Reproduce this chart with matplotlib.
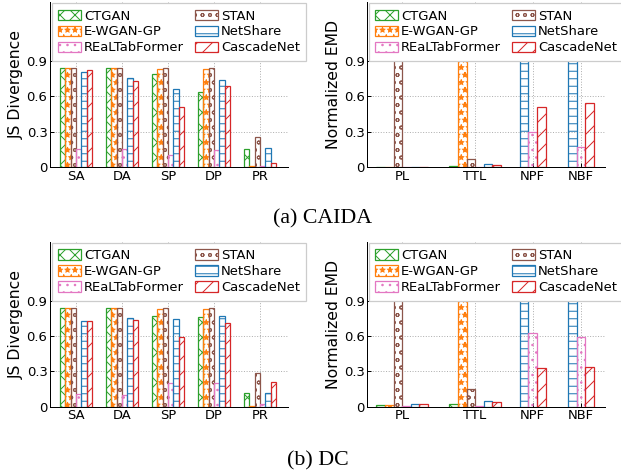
import matplotlib
matplotlib.use("Agg")
import matplotlib.pyplot as plt
import numpy as np

# ---------------- data ----------------
methods = ["CTGAN", "E-WGAN-GP", "STAN", "REaLTabFormer", "NetShare", "CascadeNet"]
legend_order = ["CTGAN", "E-WGAN-GP", "REaLTabFormer", "STAN", "NetShare", "CascadeNet"]

js_features = ["SA", "DA", "SP", "DP", "PR"]
emd_features = ["PL", "TTL", "NPF", "NBF"]

# JS divergence, CAIDA
caida_js_ctgan = [0.84, 0.84, 0.787, 0.634, 0.157]
caida_js_ewgan = [0.84, 0.84, 0.83, 0.83, 0.005]
caida_js_stan = [0.84, 0.84, 0.838, 0.838, 0.259]
caida_js_realtab = [0.157, 0.152, 0.10, 0.148, 0.005]
caida_js_netshare = [0.804, 0.753, 0.66, 0.738, 0.162]
caida_js_cascade = [0.821, 0.733, 0.511, 0.69, 0.031]

# Normalized EMD, CAIDA (None = not applicable)
caida_emd_ctgan = [0.002, 0.01, None, None]
caida_emd_ewgan = [0.002, 1.0, None, None]
caida_emd_stan = [1.0, 0.071, None, None]
caida_emd_realtab = [0.001, 0.001, 0.298, 0.168]
caida_emd_netshare = [0.003, 0.025, 1.0, 1.0]
caida_emd_cascade = [0.003, 0.015, 0.506, 0.54]

# JS divergence, DC
dc_js_ctgan = [0.835, 0.835, 0.77, 0.759, 0.113]
dc_js_ewgan = [0.835, 0.835, 0.826, 0.826, 0.002]
dc_js_stan = [0.835, 0.835, 0.835, 0.835, 0.283]
dc_js_realtab = [0.105, 0.099, 0.198, 0.198, 0.025]
dc_js_netshare = [0.727, 0.75, 0.744, 0.77, 0.113]
dc_js_cascade = [0.725, 0.736, 0.594, 0.708, 0.212]

# Normalized EMD, DC
dc_emd_ctgan = [0.014, 0.02, None, None]
dc_emd_ewgan = [0.015, 1.0, None, None]
dc_emd_stan = [1.0, 0.147, None, None]
dc_emd_realtab = [0.002, 0.002, 0.623, 0.594]
dc_emd_netshare = [0.02, 0.045, 1.0, 1.0]
dc_emd_cascade = [0.02, 0.037, 0.325, 0.337]

yticks = [0, 0.3, 0.6, 0.9]
ytick_labels = ["0", "0.3", "0.6", "0.9"]
captions = ["(a) CAIDA", "(b) DC"]

# ---------------- style ----------------
colors = {"CTGAN": "#2ca02c", "E-WGAN-GP": "#ff7f0e", "STAN": "#8c564b",
          "REaLTabFormer": "#e377c2", "NetShare": "#1f77b4", "CascadeNet": "#d62728"}
hatches = {"CTGAN": "xx", "E-WGAN-GP": "**", "STAN": "oo",
           "REaLTabFormer": "..", "NetShare": "--", "CascadeNet": "//"}

plt.rcParams["font.family"] = ["DejaVu Sans"]
plt.rcParams["hatch.linewidth"] = 0.8

DPI = 90
fig = plt.figure(figsize=(621 / DPI, 471 / DPI), dpi=DPI)

W = 0.3833
H = 0.35
pos = {
    (0, 0): [0.0805, 0.6454, W, H],
    (0, 1): [0.591, 0.6454, W, H],
    (1, 0): [0.0805, 0.1365, W, H],
    (1, 1): [0.591, 0.1365, W, H],
}

bw = 0.117


def style_axes(ax, ylabel):
    ax.set_ylim(0, 1.4)
    ax.set_yticks(yticks)
    ax.set_yticklabels(ytick_labels)
    ax.set_ylabel(ylabel, fontsize=12.5, labelpad=2)
    ax.tick_params(direction="in", length=3, labelsize=10.5, pad=2)
    ax.spines["top"].set_visible(False)
    ax.spines["right"].set_visible(False)
    ax.grid(True, linestyle=":", color="#b0b0b0", linewidth=0.8)
    ax.set_axisbelow(True)


def add_legend(ax, handles):
    hmap = dict(zip(methods, handles))
    ax.legend([hmap[m] for m in legend_order], legend_order, ncol=2,
              loc="upper left", bbox_to_anchor=(0.008, 0.995),
              borderaxespad=0, fontsize=10.5, handlelength=1.75,
              handleheight=0.85, handletextpad=0.2, labelspacing=0.22,
              columnspacing=0.85, borderpad=0.5, framealpha=1.0,
              edgecolor="#cccccc", fancybox=False)


def draw_js(ax, series):
    x = np.arange(len(js_features))
    handles = []
    for i, (m, vals) in enumerate(zip(methods, series)):
        b = ax.bar(x + (i - 2.5) * bw, vals, bw, facecolor="none",
                   edgecolor=colors[m], hatch=hatches[m], linewidth=1.0, label=m)
        handles.append(b)
    ax.set_xticks(x)
    ax.set_xticklabels(js_features)
    ax.set_xlim(-0.565, 4.61)
    style_axes(ax, "JS Divergence")
    add_legend(ax, handles)


def draw_emd(ax, series):
    centers = np.array([0.0, 1.0, 1.79, 2.45])
    handles = [None] * len(methods)
    for j, c in enumerate(centers):
        present = [(i, series[i][j]) for i in range(len(methods)) if series[i][j] is not None]
        if len(present) == 3:
            # NetShare, REaLTabFormer, CascadeNet order for flow-level features
            order = {"NetShare": 0, "REaLTabFormer": 1, "CascadeNet": 2}
            present.sort(key=lambda t: order[methods[t[0]]])
        n = len(present)
        for k, (i, v) in enumerate(present):
            m = methods[i]
            b = ax.bar(c + (k - (n - 1) / 2) * bw, v, bw, facecolor="none",
                       edgecolor=colors[m], hatch=hatches[m], linewidth=1.0)
            if handles[i] is None:
                handles[i] = b
    ax.set_xticks(centers)
    ax.set_xticklabels(emd_features)
    ax.set_xlim(-0.48, 2.78)
    style_axes(ax, "Normalized EMD")
    add_legend(ax, handles)


ax = fig.add_axes(pos[(0, 0)])
draw_js(ax, [caida_js_ctgan, caida_js_ewgan, caida_js_stan,
             caida_js_realtab, caida_js_netshare, caida_js_cascade])
ax = fig.add_axes(pos[(0, 1)])
draw_emd(ax, [caida_emd_ctgan, caida_emd_ewgan, caida_emd_stan,
              caida_emd_realtab, caida_emd_netshare, caida_emd_cascade])
ax = fig.add_axes(pos[(1, 0)])
draw_js(ax, [dc_js_ctgan, dc_js_ewgan, dc_js_stan,
             dc_js_realtab, dc_js_netshare, dc_js_cascade])
ax = fig.add_axes(pos[(1, 1)])
draw_emd(ax, [dc_emd_ctgan, dc_emd_ewgan, dc_emd_stan,
              dc_emd_realtab, dc_emd_netshare, dc_emd_cascade])

fig.text(0.52, 1 - 223 / 471, captions[0], ha="center", va="baseline",
         fontsize=17.5, family="Liberation Serif")
fig.text(0.512, 1 - 465 / 471, captions[1], ha="center", va="baseline",
         fontsize=17.5, family="Liberation Serif")

fig.savefig("out.png", dpi=DPI)
